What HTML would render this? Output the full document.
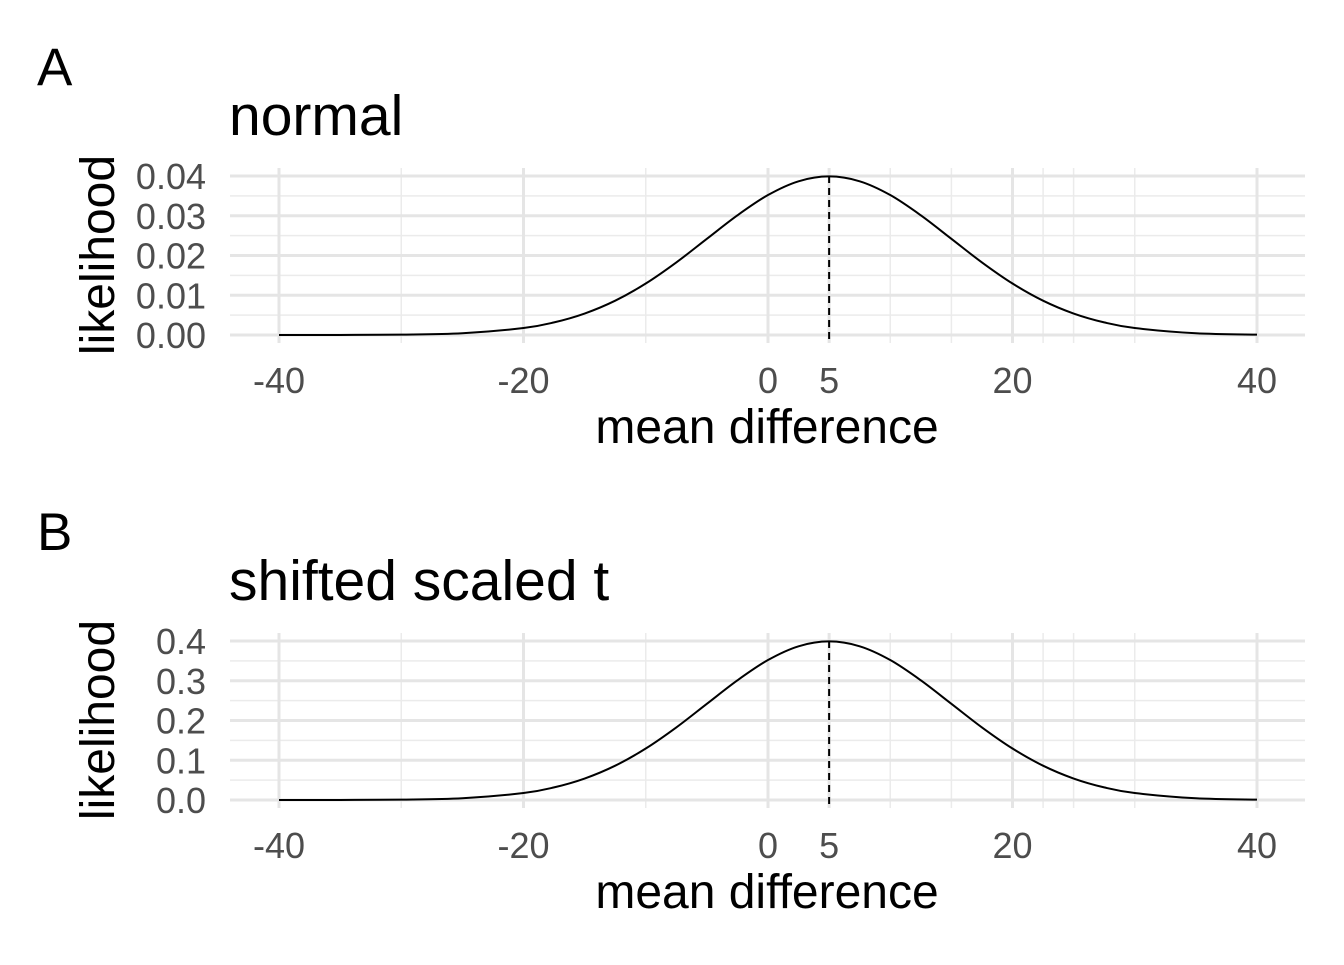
<!DOCTYPE html>
<html><head><meta charset="utf-8"><style>
body{margin:0;background:#fff;width:1344px;height:960px;overflow:hidden}
svg{font-family:"Liberation Sans",Arial,sans-serif}
</style></head><body>
<svg id="chart" width="1344" height="960"></svg>
<script>
const xVals=[-40,-35,-30,-25,-20,-17.5,-15,-12.5,-10,-7.5,-5,-2.5,0,2.5,5,7.5,10,12.5,15,17.5,20,22.5,25,27.5,30,35,40];
const densA=[0.0000016,0.0000134,0.0000873,0.000443,0.00175,0.00317,0.0054,0.00863,0.01295,0.01826,0.0242,0.03011,0.03521,0.03867,0.03989,0.03867,0.03521,0.03011,0.0242,0.01826,0.01295,0.00863,0.0054,0.00317,0.00175,0.000443,0.0000873];
const densB=[0.00002,0.00013,0.00087,0.0044,0.0175,0.0317,0.054,0.0863,0.1295,0.1826,0.242,0.3011,0.3521,0.3867,0.3989,0.3867,0.3521,0.3011,0.242,0.1826,0.1295,0.0863,0.054,0.0317,0.0175,0.0044,0.00087];
const xMajor=[-40,-20,0,5,20,40];
const xMinor=[-30,-10,10,15,22.5,25,30];
const yTicksA=[0,0.01,0.02,0.03,0.04];
const yLabelsA=["0.00","0.01","0.02","0.03","0.04"];
const yTicksB=[0,0.1,0.2,0.3,0.4];
const yLabelsB=["0.0","0.1","0.2","0.3","0.4"];
const meanLine=[5];
const NS="http://www.w3.org/2000/svg";
const svg=document.getElementById('chart');
function mk(t,a,p){const e=document.createElementNS(NS,t);for(const k in a)e.setAttribute(k,a[k]);(p||svg).appendChild(e);return e;}
const xs=v=>768+v*12.225;
function panel(key,top,title,dens,yT,yL,yMax){
  const g=mk('g',{});
  
  
  const y0=top+159,y1=top;
  const ys=v=>y0-(v/yMax)*(y0-y1);
  const step=yT[1]-yT[0];
  for(let i=0;i<yT.length-1;i++){const l=mk('line',{x1:230,x2:1305,y1:ys(yT[i]+step/2),y2:ys(yT[i]+step/2),stroke:'#ebebeb','stroke-width':1.5},g);}
  xMinor.forEach(v=>{const l=mk('line',{x1:xs(v),x2:xs(v),y1:top-8,y2:y0+8,stroke:'#ebebeb','stroke-width':1.5},g);});
  yT.forEach((v,i)=>{const l=mk('line',{x1:230,x2:1305,y1:ys(v),y2:ys(v),stroke:'#e5e5e5','stroke-width':3},g);
    const t=mk('text',{x:206,y:ys(v)+13,'text-anchor':'end','font-size':36,fill:'#4d4d4d'},g);t.textContent=yL[i];});
  xMajor.forEach(v=>{const l=mk('line',{x1:xs(v),x2:xs(v),y1:top-8,y2:y0+8,stroke:'#e5e5e5','stroke-width':3},g);
    const t=mk('text',{x:xs(v),y:y0+58,'text-anchor':'middle','font-size':36,fill:'#4d4d4d'},g);t.textContent=String(v);});
  const P=xVals.map((x,i)=>[xs(x),ys(dens[i])]);
  let d='M'+P[0][0]+','+P[0][1];
  for(let i=0;i<P.length-1;i++){const p0=P[Math.max(0,i-1)],p1=P[i],p2=P[i+1],p3=P[Math.min(P.length-1,i+2)];
    d+=' C'+(p1[0]+(p2[0]-p0[0])/6)+','+(p1[1]+(p2[1]-p0[1])/6)+' '+(p2[0]-(p3[0]-p1[0])/6)+','+(p2[1]-(p3[1]-p1[1])/6)+' '+p2[0]+','+p2[1];}
  const c=mk('path',{d:d,fill:'none',stroke:'#000','stroke-width':2},g);
  
  
  meanLine.forEach(v=>{const l=mk('line',{x1:xs(v),x2:xs(v),y1:top,y2:y0+8,stroke:'#000','stroke-width':2,'stroke-dasharray':'7,5'},g);});
  const tt=mk('text',{x:229,y:top-41,'font-size':57,fill:'#000'},g);tt.textContent=title;
  
  const tag=mk('text',{x:37,y:top-91,'font-size':53,fill:'#000'},g);tag.textContent=key;
  
  const xt=mk('text',{x:767,y:y0+108,'text-anchor':'middle','font-size':48,fill:'#000'},g);xt.textContent='mean difference';
  
  const yt=mk('text',{x:0,y:0,'text-anchor':'middle','font-size':48,fill:'#000',transform:'translate(114,'+(top+79)+') rotate(-90)'},g);yt.textContent='likelihood';
  
}
panel('A',176,'normal',densA,yTicksA,yLabelsA,0.04);
panel('B',641,'shifted scaled t',densB,yTicksB,yLabelsB,0.4);
</script>
</body></html>
